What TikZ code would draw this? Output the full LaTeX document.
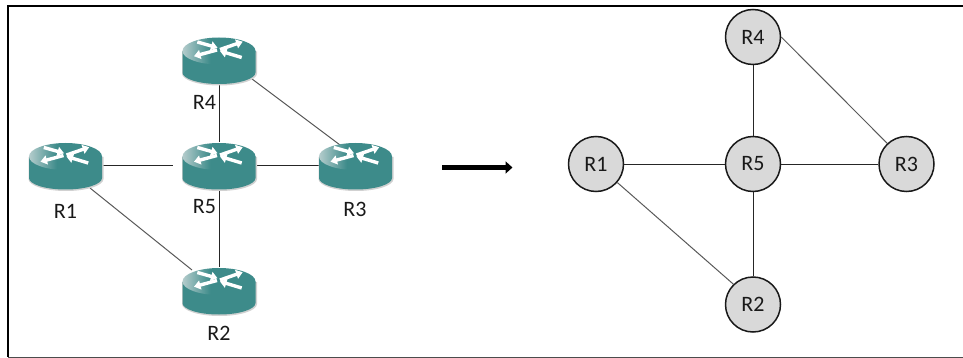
\documentclass[tikz,border=0pt]{standalone}
\usepackage{fontspec}
\setmainfont{Carlito}
\usetikzlibrary{arrows.meta,calc}
\definecolor{teal1}{HTML}{3D8B8A}
\definecolor{rimgray}{HTML}{B4CCCC}
\pgfdeclarehorizontalshading{rtop}{100bp}{color(0bp)=(rimgray); color(25bp)=(rimgray); color(44bp)=(teal1); color(100bp)=(teal1)}
\tikzset{
  x=1pt,y=-1pt,
  frame/.style={draw=black,line width=2pt},
  link/.style={draw=black!85,line width=0.9pt},
  dlink/.style={draw=black!65,line width=1pt},
  rbox/.style={minimum width=73pt,minimum height=47pt,inner sep=0pt},
  lbl/.style={font=\fontsize{22}{22}\selectfont,text=black!90,inner sep=0pt},
  gnode/.style={circle,draw=black!90,line width=1.5pt,fill=black!15,minimum size=55pt,inner sep=0pt,font=\fontsize{22}{22}\selectfont,text=black!90},
  rarrow/.style={white,line width=3.4pt,-{Triangle[length=6.5pt,width=9pt]}},
  router/.pic={
    \fill[black!18] (-37,-9) -- (-37,13) arc[x radius=37.5,y radius=12,start angle=180,end angle=0] -- (38,-9) -- cycle;
    \fill[teal1] (-36.5,-9.5) -- (-36.5,12) arc[x radius=36.5,y radius=11.5,start angle=180,end angle=0] -- (36.5,-9.5) -- cycle;
    \shade[shading=rtop] (0,-9.5) ellipse[x radius=36.5,y radius=13.5];
    \draw[rarrow] (1,-11) -- (23.7,-18.8);
    \draw[rarrow] (-2,-10.5) -- (-25,-4.3);
    \draw[rarrow] (-21.7,-18.5) -- (-1.5,-12.8);
    \draw[rarrow] (22.7,-3) -- (1,-9.5);
  }
}
\begin{document}
\begin{tikzpicture}
\useasboundingbox (0,0) rectangle (963,358);
\coordinate (fa) at (963,6.5);
\coordinate (fb) at (8,6.5);
\coordinate (fc) at (8,357);
\coordinate (fd) at (963,357);
\draw[frame] (fa) -- (fb) -- (fc);
\draw[black!70,line width=1pt] (fc) -- (fd);
% left network
\node[rbox] (l4) at (219,60.5) {};
\node[rbox] (l5) at (219,166) {};
\node[rbox] (l1) at (65.5,166) {};
\node[rbox] (l3) at (355.5,166) {};
\node[rbox] (l2) at (219,291) {};
\coordinate (l5w) at (173,165);
\coordinate (l3nw) at (340,145);
\coordinate (l2nw) at (192,270);
\coordinate (l4se) at (252,79);
\coordinate (l1se) at (90,188);
\draw[link] (l4.south) -- (l5.north);
\draw[link] (l5.south) -- (l2.north);
\draw[link] (l1.east |- 0,165) -- (l5w);
\draw[link] (l5.east |- 0,165) -- (l3.west |- 0,165);
\draw[dlink] (l4se) -- (l3nw);
\draw[dlink] (l1se) -- (l2nw);
\foreach \n in {l4,l5,l1,l3,l2} \pic at (\n) {router};
\node[lbl] (t4) at (204.5,102) {R4};
\node[lbl] (t5) at (204.5,207) {R5};
\node[lbl] (t1) at (65.5,211) {R1};
\node[lbl] (t3) at (355,209) {R3};
\node[lbl] (t2) at (219,333) {R2};
% arrow
\coordinate (as) at (442,167.5);
\coordinate (ae) at (512.5,167.5);
\draw[black,line width=5pt,-{Triangle[length=7pt,width=12pt]}] (as) -- (ae);
% right network
\node[gnode] (n4) at (753,37) {R4};
\node[gnode] (n5) at (753,164) {R5};
\node[gnode] (n1) at (596,164) {R1};
\node[gnode] (n3) at (906.5,164) {R3};
\node[gnode] (n2) at (753,304.5) {R2};
\draw[link] (n4) -- (n5);
\draw[link] (n5) -- (n2);
\draw[link] (n1) -- (n5);
\draw[link] (n5) -- (n3);
\draw[dlink] (n4.0) -- (n3.133);
\draw[dlink] (n1.-41) -- (n2.134);
\end{tikzpicture}
\end{document}
